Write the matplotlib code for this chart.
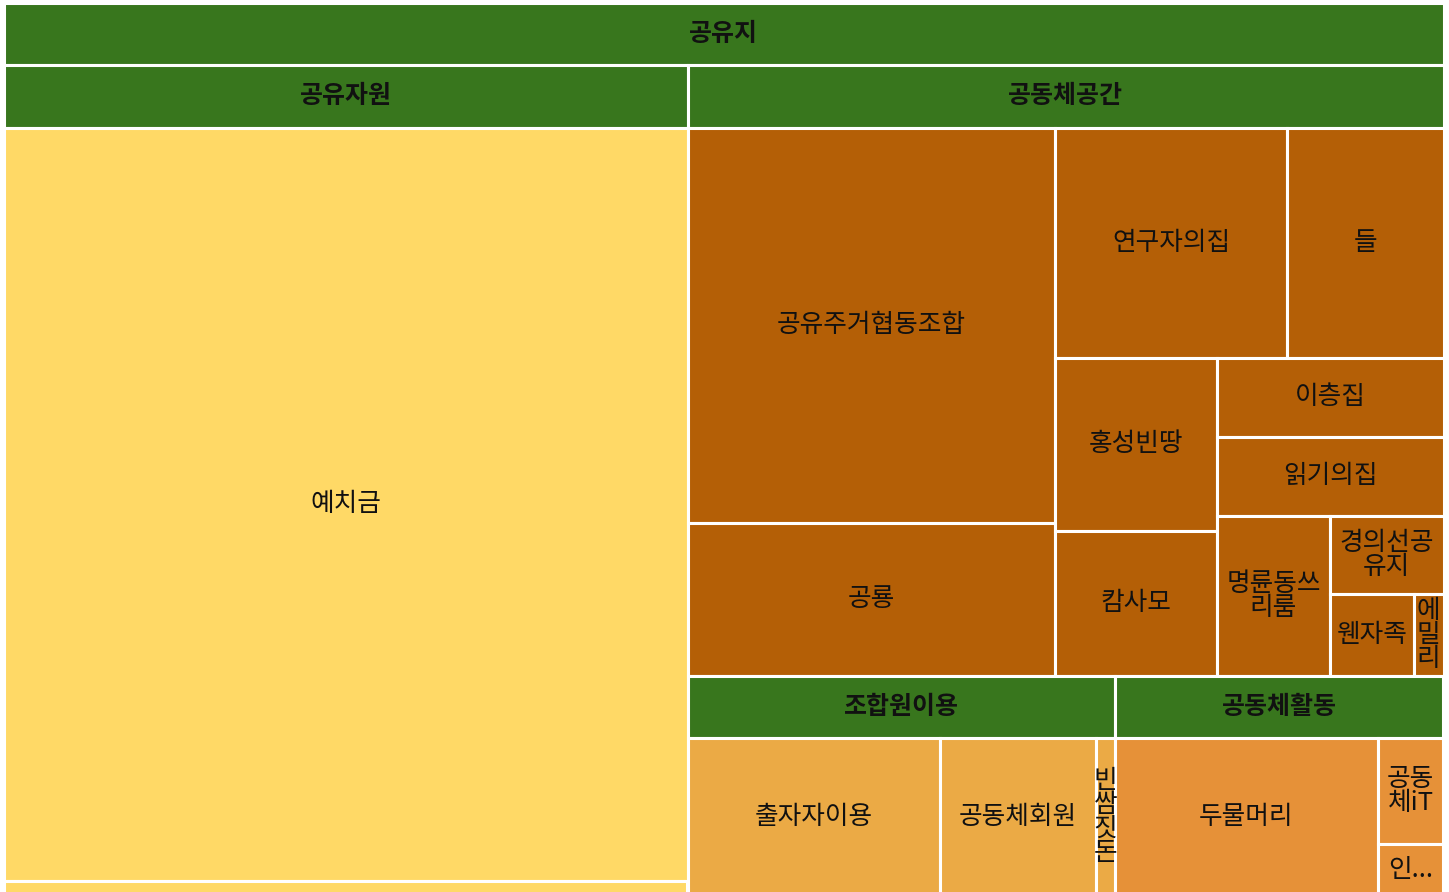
import matplotlib
matplotlib.use("Agg")
import matplotlib.pyplot as plt
from matplotlib.patches import Rectangle
from matplotlib.font_manager import FontProperties

plt.rcParams['font.family'] = ['Noto Sans CJK KR', 'DejaVu Sans']

# data: top node, its groups and the leaves of every group
root_name = "공유지"
group_names = ["공유자원", "공동체공간", "조합원이용", "공동체활동"]

res_names = ["예치금", "기타"]
res_vals = [466.4, 8.6]

space_names = ["공유주거협동조합", "공룡", "연구자의집", "들", "홍성빈땅", "캄사모",
               "이층집", "읽기의집", "명륜동쓰리룸", "경의선공유지", "웬자족", "에밀리"]
space_vals = [135.4, 52.4, 49.8, 33.6, 26.1, 21.9, 16.7, 16.7, 16.9, 8.2, 6.4, 2.3]

use_names = ["출자자이용", "공동체회원", "빈쌈짓돈"]
use_vals = [46.3, 28.6, 3.4]

act_names = ["두물머리", "공동체iT", "인..."]
act_vals = [48.3, 8.1, 3.9]

leaf_names = [res_names, space_names, use_names, act_names]
leaf_vals = [res_vals, space_vals, use_vals, act_vals]

# how many cells go in each strip of the squarified layout
space_strips = [2, 2, 2, 1, 1, 1, 1, 1, 1]
strips = [None, space_strips, None, None]

header_color = "#38761d"
leaf_colors = ["#ffd966", "#b45f06", "#ebaa45", "#e69138"]

W, H = 1449, 892
HEADER = 62.5
FS_LEAF = 18.5
FS_HEAD = 18
PAD = 2
PITCH = 23.5


def layout(vals, x0, y0, x1, y1, counts=None):
    if counts is None:
        counts = [1] * len(vals)
    total = float(sum(vals))
    rects = []
    i = 0
    for n in counts:
        chunk = vals[i:i + n]
        s = float(sum(chunk))
        w, h = x1 - x0, y1 - y0
        if w >= h:
            cw = w * s / total
            yy = y0
            for v in chunk:
                hh = h * v / s
                rects.append((x0, yy, cw, hh))
                yy += hh
            x0 += cw
        else:
            rh = h * s / total
            xx = x0
            for v in chunk:
                ww = w * v / s
                rects.append((xx, y0, ww, rh))
                xx += ww
            y0 += rh
        total -= s
        i += n
    return rects


fig = plt.figure(figsize=(W / 100, H / 100), dpi=100)
ax = fig.add_axes([0, 0, 1, 1])
ax.set_xlim(0, W)
ax.set_ylim(H, 0)
ax.axis('off')
renderer = fig.canvas.get_renderer()

fp_leaf = FontProperties(family=['Noto Sans CJK KR', 'DejaVu Sans'], size=FS_LEAF)
fp_head = FontProperties(family=['Noto Sans CJK KR', 'DejaVu Sans'], size=FS_HEAD, weight='bold')


def text_w(s, fp):
    return renderer.get_text_width_height_descent(s, fp, ismath=False)[0]


def block_h(s, fp):
    t = ax.text(0, 0, s, fontproperties=fp, linespacing=1.0)
    hh = t.get_window_extent(renderer).height
    t.remove()
    return hh


def wrap(label, max_w, fp):
    lines, cur = [], ""
    for ch in label:
        if cur and text_w(cur + ch, fp) > max_w:
            lines.append(cur)
            cur = ch
        else:
            cur += ch
    if cur:
        lines.append(cur)
    return lines


def cell(x, y, w, h, color):
    ax.add_patch(Rectangle((x, y), w, h, facecolor=color, edgecolor='white', lw=2.2))


def label(x, y, w, h, s, fp):
    lines = wrap(s, w - 2 * PAD, fp)
    if len(lines) * PITCH > h:
        return
    ls = 1.0
    if len(lines) > 1:
        # pitch at linespacing 1, then scale to the wanted pitch
        p1 = (block_h("\n".join(lines), fp) - block_h(lines[-1], fp)) / (len(lines) - 1)
        ls = PITCH / p1
    ax.text(x + w / 2, y + h / 2, "\n".join(lines), fontproperties=fp,
            ha='center', va='center', multialignment='center',
            linespacing=ls, color='#111111')


def header(x, y, w, s):
    cell(x, y, w, HEADER, header_color)
    label(x, y, w, HEADER, s, fp_head)


rx0, ry0, rx1, ry1 = 3.5, 2.5, 1443.5, 895
header(rx0, ry0, rx1 - rx0, root_name)

group_vals = [sum(v) for v in leaf_vals]
for gi, (gx, gy, gw, gh) in enumerate(layout(group_vals, rx0, ry0 + HEADER, rx1, ry1)):
    header(gx, gy, gw, group_names[gi])
    boxes = layout(leaf_vals[gi], gx, gy + HEADER, gx + gw, gy + gh, strips[gi])
    for name, (x, y, w, h) in zip(leaf_names[gi], boxes):
        cell(x, y, w, h, leaf_colors[gi])
        label(x, y, w, h, name, fp_leaf)

fig.savefig("out.png", dpi=100)
